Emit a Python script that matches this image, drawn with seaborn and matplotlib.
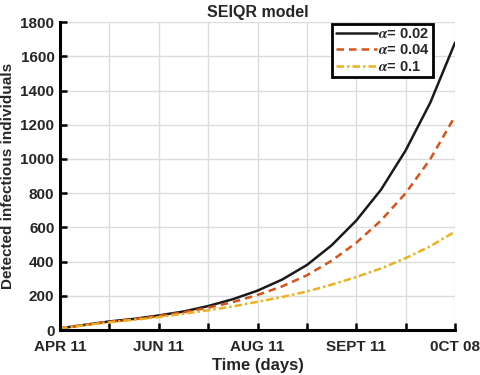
import numpy as np
import pandas as pd
import seaborn as sns
import matplotlib.pyplot as plt

# days since APR 11 (half-tick sampling)
days = [0, 11.25, 22.5, 33.75, 45, 56.25, 67.5, 78.75, 90,
        101.25, 112.5, 123.75, 135, 146.25, 157.5, 168.75, 180]
a002 = [10, 30, 50, 65, 85, 108, 140, 180, 230, 295, 380, 495, 640, 820, 1050, 1330, 1680]
a004 = [10, 30, 48, 63, 82, 103, 130, 163, 205, 255, 320, 405, 510, 640, 800, 1000, 1250]
a01 = [10, 28, 45, 60, 75, 95, 115, 138, 165, 193, 225, 265, 310, 360, 420, 490, 575]
labels = [r'$\alpha$= 0.02', r'$\alpha$= 0.04', r'$\alpha$= 0.1']
xtick_pos = [0, 22.5, 45, 67.5, 90, 112.5, 135, 157.5, 180]
xtick_labels = ['APR 11', '', 'JUN 11', '', 'AUG 11', '', 'SEPT 11', '', '0CT 08']

df = pd.concat([
    pd.DataFrame({'day': days, 'value': v, 'series': lab})
    for v, lab in zip([a002, a004, a01], labels)
])

sns.set_style('whitegrid')
plt.rcParams['font.family'] = ['Liberation Sans', 'DejaVu Sans']
plt.rcParams['font.weight'] = 'bold'
plt.rcParams['mathtext.fontset'] = 'stix'

fig = plt.figure(figsize=(4.8, 3.75), dpi=100)
ax = fig.add_axes([0.125, 0.12, 0.823, 0.821])

palette = {labels[0]: '#1a1a1a', labels[1]: '#D95319', labels[2]: '#EDB120'}
dashes = {labels[0]: '', labels[1]: (3, 2), labels[2]: (3, 1.2, 1, 1.2)}
sns.lineplot(data=df, x='day', y='value', hue='series', style='series',
             palette=palette, dashes=dashes, linewidth=1.8, ax=ax)

ax.set_xlim(0, 180)
ax.set_ylim(0, 1800)
ax.set_xticks(xtick_pos)
ax.set_xticklabels(xtick_labels)
ax.set_yticks(np.arange(0, 1801, 200))
ax.grid(True, color='#dcdcdc', linewidth=1)
for s in ['top', 'right']:
    ax.spines[s].set_visible(False)
for s in ['left', 'bottom']:
    ax.spines[s].set_color('black')
    ax.spines[s].set_linewidth(2.2)
ax.tick_params(axis='both', direction='in', length=5, width=1.8, color='black',
               labelsize=11, bottom=True, left=True)
ax.tick_params(axis='x', pad=7)
ax.tick_params(axis='y', pad=4)
for t in ax.get_xticklabels() + ax.get_yticklabels():
    t.set_fontweight('bold')

ax.set_title('SEIQR model', fontsize=11.5, fontweight='bold', pad=4)
ax.set_xlabel('Time (days)', fontsize=12, fontweight='bold', labelpad=3)
ax.set_ylabel('Detected infectious individuals', fontsize=11, fontweight='bold', labelpad=4)

leg = ax.legend(loc='upper right', bbox_to_anchor=(0.945, 0.995), fontsize=10.5,
                handlelength=2.8, handletextpad=0.1, borderpad=0.25,
                borderaxespad=0, labelspacing=0.15, fancybox=False, framealpha=1)
leg.get_frame().set_edgecolor('black')
leg.get_frame().set_linewidth(2)
for t in leg.get_texts():
    t.set_fontweight('bold')

fig.savefig('out.png', dpi=100)
